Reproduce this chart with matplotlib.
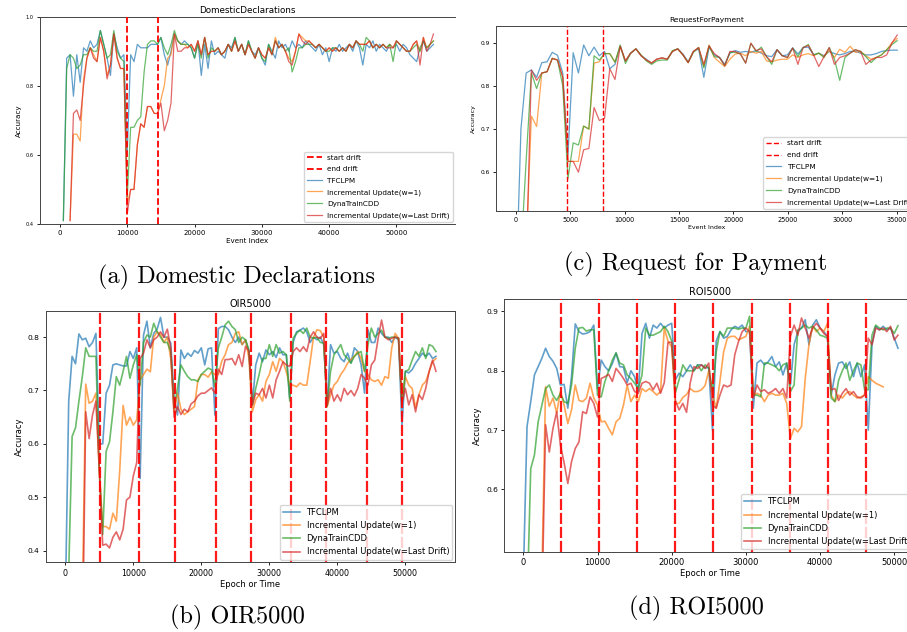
import numpy as np
import matplotlib
matplotlib.use("Agg")
import matplotlib.pyplot as plt

nan = np.nan

# ---------------- (a) Domestic Declarations ----------------
a_x = np.arange(500, 55501, 500)
a_tfclpm = [
 0.41, 0.88, 0.89, 0.77, 0.89, 0.81, 0.91, 0.90, 0.93, 0.91,
 0.92, 0.96, 0.92, 0.88, 0.83, 0.95, 0.91, 0.88, 0.89, 0.61,
 0.89, 0.87, 0.92, 0.91, 0.91, 0.91, 0.92, 0.92, 0.92, 0.94,
 0.89, 0.86, 0.90, 0.95, 0.93, 0.92, 0.93, 0.92, 0.91, 0.88,
 0.93, 0.83, 0.92, 0.85, 0.93, 0.89, 0.90, 0.89, 0.88, 0.92,
 0.91, 0.94, 0.90, 0.92, 0.89, 0.93, 0.90, 0.89, 0.91, 0.88,
 0.86, 0.92, 0.90, 0.88, 0.93, 0.91, 0.92, 0.90, 0.93, 0.91,
 0.92, 0.91, 0.93, 0.92, 0.91, 0.90, 0.92, 0.89, 0.91, 0.87,
 0.91, 0.90, 0.92, 0.90, 0.91, 0.92, 0.90, 0.93, 0.91, 0.86,
 0.92, 0.91, 0.93, 0.90, 0.92, 0.91, 0.90, 0.92, 0.91, 0.92,
 0.90, 0.92, 0.91, 0.89, 0.88, 0.87, 0.91, 0.93, 0.90, 0.91,
 0.92]
a_incr1 = [
 nan, nan, 0.41, 0.66, 0.66, 0.64, 0.82, 0.88, 0.91, 0.89,
 0.87, 0.94, 0.90, 0.83, 0.86, 0.95, 0.88, 0.85, 0.85, 0.46,
 0.50, 0.50, 0.63, 0.69, 0.68, 0.74, 0.74, 0.72, 0.72, 0.76,
 0.80, 0.88, 0.89, 0.95, 0.93, 0.92, 0.92, 0.91, 0.92, 0.90,
 0.93, 0.89, 0.94, 0.89, 0.90, 0.90, 0.91, 0.89, 0.90, 0.92,
 0.90, 0.93, 0.90, 0.92, 0.89, 0.92, 0.90, 0.88, 0.91, 0.89,
 0.88, 0.91, 0.89, 0.94, 0.91, 0.92, 0.90, 0.88, 0.87, 0.90,
 0.95, 0.94, 0.93, 0.93, 0.92, 0.91, 0.92, 0.91, 0.90, 0.91,
 0.90, 0.91, 0.90, 0.91, 0.90, 0.92, 0.91, 0.93, 0.92, 0.92,
 0.92, 0.93, 0.91, 0.92, 0.91, 0.92, 0.91, 0.92, 0.91, 0.93,
 0.92, 0.91, 0.90, 0.90, 0.92, 0.93, 0.90, 0.94, 0.91, 0.92,
 0.93]
a_dyna = [
 0.41, 0.85, 0.89, 0.88, 0.85, 0.86, 0.89, 0.89, 0.91, 0.90,
 0.90, 0.96, 0.92, 0.88, 0.89, 0.96, 0.90, 0.88, 0.87, 0.48,
 0.68, 0.68, 0.70, 0.71, 0.84, 0.92, 0.93, 0.93, 0.92, 0.94,
 0.91, 0.89, 0.92, 0.96, 0.93, 0.92, 0.92, 0.92, 0.91, 0.88,
 0.92, 0.88, 0.94, 0.88, 0.91, 0.90, 0.91, 0.89, 0.90, 0.92,
 0.90, 0.94, 0.90, 0.92, 0.89, 0.93, 0.90, 0.88, 0.91, 0.88,
 0.87, 0.92, 0.89, 0.93, 0.91, 0.92, 0.90, 0.91, 0.84, 0.87,
 0.91, 0.91, 0.92, 0.92, 0.92, 0.91, 0.92, 0.91, 0.90, 0.90,
 0.91, 0.91, 0.90, 0.91, 0.90, 0.92, 0.91, 0.93, 0.92, 0.90,
 0.94, 0.93, 0.91, 0.92, 0.91, 0.92, 0.91, 0.92, 0.87, 0.93,
 0.92, 0.91, 0.90, 0.90, 0.91, 0.92, 0.90, 0.93, 0.91, 0.92,
 0.93]
a_incrLD = [
 nan, nan, 0.41, 0.72, 0.73, 0.70, 0.80, 0.88, 0.91, 0.88,
 0.87, 0.94, 0.90, 0.82, 0.86, 0.95, 0.88, 0.85, 0.85, 0.43,
 0.50, 0.50, 0.63, 0.69, 0.68, 0.74, 0.74, 0.72, 0.72, 0.75,
 0.67, 0.70, 0.75, 0.95, 0.90, 0.90, 0.91, 0.91, 0.92, 0.90,
 0.93, 0.89, 0.94, 0.89, 0.90, 0.90, 0.91, 0.89, 0.90, 0.92,
 0.90, 0.93, 0.90, 0.92, 0.89, 0.92, 0.90, 0.88, 0.91, 0.89,
 0.88, 0.91, 0.89, 0.93, 0.91, 0.92, 0.90, 0.87, 0.86, 0.90,
 0.95, 0.93, 0.92, 0.93, 0.92, 0.91, 0.92, 0.91, 0.90, 0.91,
 0.90, 0.91, 0.90, 0.91, 0.90, 0.92, 0.91, 0.93, 0.92, 0.92,
 0.92, 0.93, 0.91, 0.92, 0.91, 0.92, 0.91, 0.91, 0.91, 0.93,
 0.92, 0.91, 0.90, 0.90, 0.92, 0.93, 0.86, 0.94, 0.90, 0.92,
 0.95]
a_drifts = [9900, 14600]

# ---------------- (c) Request for Payment ----------------
c_x = np.arange(0, 35041, 480)
c_tfclpm = [
 0.30, 0.70, 0.83, 0.837, 0.82, 0.854, 0.856, 0.878, 0.871, 0.83,
 0.64, 0.877, 0.83, 0.895, 0.87, 0.89, 0.87, 0.88, 0.84, 0.85,
 0.892, 0.858, 0.876, 0.886, 0.870, 0.862, 0.853, 0.862, 0.865, 0.862,
 0.880, 0.886, 0.874, 0.856, 0.880, 0.886, 0.820, 0.890, 0.872, 0.866,
 0.850, 0.876, 0.882, 0.878, 0.880, 0.878, 0.882, 0.876, 0.870, 0.868,
 0.884, 0.870, 0.872, 0.888, 0.874, 0.889, 0.890, 0.872, 0.876, 0.870,
 0.880, 0.875, 0.872, 0.875, 0.880, 0.880, 0.876, 0.872, 0.872, 0.875,
 0.880, 0.882, 0.883, 0.883]
c_incr1 = [
 nan, nan, 0.42, 0.73, 0.706, 0.83, 0.833, 0.864, 0.86, 0.82,
 0.625, 0.625, 0.625, 0.707, 0.70, 0.853, 0.856, 0.875, 0.875, 0.855,
 0.892, 0.858, 0.876, 0.886, 0.870, 0.860, 0.853, 0.862, 0.865, 0.862,
 0.880, 0.886, 0.872, 0.854, 0.880, 0.889, 0.845, 0.895, 0.866, 0.855,
 0.845, 0.862, 0.874, 0.876, 0.870, 0.880, 0.876, 0.880, 0.858, 0.856,
 0.860, 0.862, 0.862, 0.872, 0.866, 0.872, 0.875, 0.870, 0.876, 0.868,
 0.882, 0.866, 0.885, 0.878, 0.892, 0.878, 0.880, 0.870, 0.862, 0.866,
 0.872, 0.884, 0.900, 0.910]
c_dyna = [
 nan, 0.41, 0.627, 0.83, 0.794, 0.83, 0.833, 0.864, 0.86, 0.80,
 0.585, 0.668, 0.663, 0.707, 0.70, 0.87, 0.86, 0.875, 0.875, 0.855,
 0.895, 0.852, 0.876, 0.886, 0.872, 0.858, 0.850, 0.858, 0.860, 0.860,
 0.882, 0.886, 0.872, 0.854, 0.878, 0.889, 0.842, 0.893, 0.868, 0.866,
 0.847, 0.878, 0.878, 0.874, 0.853, 0.899, 0.880, 0.890, 0.868, 0.850,
 0.884, 0.870, 0.866, 0.888, 0.868, 0.889, 0.896, 0.872, 0.876, 0.866,
 0.889, 0.862, 0.813, 0.866, 0.876, 0.884, 0.880, 0.868, 0.854, 0.866,
 0.872, 0.884, 0.896, 0.905]
c_incrLD = [
 nan, nan, 0.375, 0.837, 0.813, 0.83, 0.833, 0.864, 0.86, 0.82,
 0.625, 0.625, 0.60, 0.652, 0.655, 0.75, 0.72, 0.725, 0.84, 0.815,
 0.892, 0.858, 0.876, 0.886, 0.870, 0.860, 0.853, 0.862, 0.865, 0.862,
 0.880, 0.886, 0.872, 0.854, 0.880, 0.889, 0.850, 0.893, 0.875, 0.866,
 0.847, 0.880, 0.880, 0.874, 0.853, 0.899, 0.882, 0.886, 0.868, 0.856,
 0.884, 0.870, 0.866, 0.888, 0.850, 0.889, 0.894, 0.872, 0.845, 0.868,
 0.889, 0.850, 0.866, 0.870, 0.876, 0.884, 0.880, 0.850, 0.860, 0.866,
 0.866, 0.872, 0.900, 0.918]
c_drifts = [4750, 8050]

# ---------------- (b) OIR5000 ----------------
b_x = np.arange(0, 54501, 500)
b_tfclpm = [
 0.30, 0.68, 0.764, 0.75, 0.806, 0.795, 0.798, 0.782, 0.79, 0.807,
 0.60, 0.60, 0.695, 0.71, 0.748, 0.75, 0.748, 0.746, 0.746, 0.773,
 0.76, 0.78, 0.535, 0.804, 0.83, 0.78, 0.807, 0.815, 0.837, 0.80,
 0.80, 0.789, 0.686, 0.654, 0.776, 0.76, 0.77, 0.764, 0.775, 0.77,
 0.78, 0.748, 0.778, 0.78, 0.654, 0.816, 0.82, 0.82, 0.814, 0.80,
 0.79, 0.80, 0.786, 0.795, 0.773, 0.673, 0.748, 0.77, 0.754, 0.776,
 0.767, 0.773, 0.762, 0.78, 0.767, 0.767, 0.686, 0.79, 0.81, 0.813,
 0.817, 0.81, 0.79, 0.80, 0.795, 0.80, 0.786, 0.673, 0.786, 0.77,
 0.773, 0.76, 0.754, 0.77, 0.752, 0.78, 0.773, 0.748, 0.695, 0.814,
 0.79, 0.79, 0.817, 0.807, 0.80, 0.80, 0.79, 0.80, 0.795, 0.636,
 0.736, 0.733, 0.739, 0.751, 0.76, 0.77, 0.764, 0.77, 0.76, 0.764]
b_incr1 = [
 nan, nan, nan, nan, nan, 0.30, 0.712, 0.676, 0.68, 0.695,
 0.55, 0.445, 0.445, 0.44, 0.47, 0.455, 0.55, 0.672, 0.635, 0.65,
 0.635, 0.645, 0.72, 0.73, 0.74, 0.735, 0.80, 0.81, 0.805, 0.79,
 0.80, 0.76, 0.66, 0.695, 0.665, 0.655, 0.66, 0.665, 0.67, 0.72,
 0.73, 0.73, 0.725, 0.735, 0.73, 0.73, 0.755, 0.767, 0.786, 0.79,
 0.807, 0.81, 0.786, 0.795, 0.76, 0.66, 0.683, 0.692, 0.68, 0.717,
 0.73, 0.754, 0.736, 0.76, 0.754, 0.735, 0.71, 0.71, 0.707, 0.714,
 0.71, 0.71, 0.754, 0.80, 0.814, 0.812, 0.80, 0.67, 0.692, 0.71,
 0.717, 0.73, 0.739, 0.751, 0.758, 0.764, 0.773, 0.76, 0.736, 0.73,
 0.72, 0.717, 0.72, 0.71, 0.726, 0.723, 0.78, 0.807, 0.798, 0.68,
 0.726, 0.71, 0.704, 0.667, 0.692, 0.71, 0.717, 0.735, 0.754, 0.76]
b_dyna = [
 nan, 0.36, 0.614, 0.63, 0.68, 0.726, 0.78, 0.764, 0.764, 0.764,
 0.55, 0.43, 0.586, 0.604, 0.66, 0.726, 0.71, 0.736, 0.764, 0.723,
 0.748, 0.767, 0.71, 0.79, 0.804, 0.80, 0.826, 0.81, 0.80, 0.79,
 0.79, 0.773, 0.667, 0.705, 0.748, 0.736, 0.726, 0.72, 0.72, 0.717,
 0.73, 0.736, 0.742, 0.739, 0.707, 0.78, 0.80, 0.823, 0.83, 0.82,
 0.814, 0.79, 0.80, 0.795, 0.776, 0.673, 0.704, 0.73, 0.76, 0.76,
 0.786, 0.764, 0.786, 0.77, 0.773, 0.767, 0.68, 0.798, 0.807, 0.813,
 0.807, 0.817, 0.80, 0.798, 0.80, 0.79, 0.789, 0.67, 0.736, 0.767,
 0.776, 0.786, 0.767, 0.76, 0.751, 0.764, 0.77, 0.773, 0.736, 0.786,
 0.817, 0.80, 0.807, 0.813, 0.80, 0.798, 0.80, 0.80, 0.798, 0.673,
 0.736, 0.739, 0.757, 0.773, 0.764, 0.78, 0.76, 0.786, 0.783, 0.773]
b_incrLD = [
 nan, nan, nan, nan, nan, 0.20, 0.66, 0.61, 0.654, 0.68,
 0.55, 0.41, 0.412, 0.405, 0.425, 0.435, 0.42, 0.44, 0.495, 0.50,
 0.54, 0.565, 0.76, 0.77, 0.795, 0.78, 0.795, 0.80, 0.81, 0.80,
 0.815, 0.78, 0.65, 0.67, 0.655, 0.665, 0.66, 0.675, 0.68, 0.69,
 0.695, 0.695, 0.70, 0.705, 0.695, 0.74, 0.73, 0.758, 0.758, 0.76,
 0.748, 0.767, 0.745, 0.783, 0.773, 0.673, 0.695, 0.692, 0.704, 0.686,
 0.71, 0.686, 0.72, 0.736, 0.754, 0.748, 0.745, 0.773, 0.78, 0.773,
 0.782, 0.773, 0.80, 0.81, 0.80, 0.798, 0.807, 0.673, 0.704, 0.68,
 0.692, 0.68, 0.704, 0.692, 0.70, 0.69, 0.704, 0.73, 0.723, 0.71,
 0.748, 0.757, 0.798, 0.832, 0.80, 0.795, 0.798, 0.80, 0.798, 0.676,
 0.704, 0.673, 0.692, 0.66, 0.692, 0.683, 0.704, 0.736, 0.757, 0.736]
b_drifts = [5100, 10880, 16130, 22110, 27260, 33140, 38290, 44320, 49560]

# ---------------- (d) ROI5000 ----------------
d_x = np.arange(0, 50501, 500)
d_tfclpm = [
 0.45, 0.706, 0.748, 0.793, 0.807, 0.821, 0.838, 0.824, 0.816, 0.804,
 0.776, 0.777, 0.737, 0.79, 0.879, 0.866, 0.862, 0.863, 0.866, 0.877,
 0.77, 0.818, 0.807, 0.80, 0.812, 0.83, 0.807, 0.806, 0.78, 0.80,
 0.79, 0.765, 0.863, 0.88, 0.855, 0.877, 0.872, 0.88, 0.872, 0.877,
 0.88, 0.785, 0.796, 0.79, 0.80, 0.81, 0.80, 0.81, 0.81, 0.805,
 0.805, 0.70, 0.85, 0.866, 0.855, 0.858, 0.869, 0.875, 0.872, 0.877,
 0.866, 0.866, 0.737, 0.813, 0.818, 0.81, 0.815, 0.824, 0.807, 0.815,
 0.793, 0.813, 0.776, 0.844, 0.866, 0.872, 0.886, 0.844, 0.877, 0.886,
 0.872, 0.866, 0.858, 0.759, 0.793, 0.813, 0.815, 0.804, 0.815, 0.79,
 0.813, 0.79, 0.81, 0.70, 0.844, 0.875, 0.869, 0.875, 0.869, 0.872,
 0.855, 0.838]
d_incr1 = [
 nan, nan, nan, nan, nan, 0.45, 0.773, 0.74, 0.754, 0.729,
 0.765, 0.742, 0.711, 0.734, 0.776, 0.75, 0.748, 0.754, 0.779, 0.754,
 0.742, 0.714, 0.715, 0.703, 0.692, 0.714, 0.72, 0.742, 0.776, 0.748,
 0.759, 0.748, 0.77, 0.765, 0.77, 0.765, 0.759, 0.765, 0.872, 0.85,
 0.84, 0.745, 0.745, 0.755, 0.76, 0.77, 0.765, 0.765, 0.768, 0.775,
 0.80, 0.76, 0.737, 0.782, 0.832, 0.855, 0.858, 0.858, 0.852, 0.855,
 0.858, 0.875, 0.759, 0.762, 0.759, 0.748, 0.759, 0.762, 0.759, 0.759,
 0.762, 0.745, 0.686, 0.703, 0.697, 0.706, 0.787, 0.844, 0.875, 0.866,
 0.872, 0.866, 0.88, 0.759, 0.748, 0.759, 0.754, 0.762, 0.765, 0.759,
 0.754, 0.756, 0.759, 0.79, 0.784, 0.779, 0.776, 0.773, nan, nan,
 nan, nan]
d_dyna = [
 nan, 0.40, 0.635, 0.658, 0.714, 0.742, 0.77, 0.776, 0.759, 0.75,
 0.762, 0.748, 0.745, 0.776, 0.838, 0.872, 0.873, 0.867, 0.869, 0.869,
 0.759, 0.756, 0.782, 0.80, 0.818, 0.83, 0.813, 0.81, 0.793, 0.787,
 0.779, 0.77, 0.793, 0.872, 0.86, 0.86, 0.863, 0.866, 0.875, 0.866,
 0.85, 0.763, 0.785, 0.81, 0.80, 0.80, 0.80, 0.81, 0.80, 0.81,
 0.805, 0.765, 0.832, 0.866, 0.858, 0.872, 0.872, 0.872, 0.87, 0.872,
 0.872, 0.892, 0.759, 0.759, 0.756, 0.813, 0.813, 0.81, 0.807, 0.80,
 0.81, 0.813, 0.765, 0.776, 0.869, 0.872, 0.877, 0.872, 0.875, 0.869,
 0.86, 0.858, 0.855, 0.754, 0.748, 0.784, 0.80, 0.813, 0.784, 0.80,
 0.813, 0.81, 0.768, 0.768, 0.86, 0.877, 0.872, 0.869, 0.872, 0.872,
 0.863, 0.876]
d_incrLD = [
 nan, nan, nan, nan, nan, 0.40, 0.709, 0.663, 0.703, 0.731,
 0.675, 0.645, 0.61, 0.647, 0.669, 0.68, 0.731, 0.728, 0.756, 0.745,
 0.722, 0.787, 0.79, 0.794, 0.782, 0.804, 0.796, 0.787, 0.776, 0.779,
 0.765, 0.762, 0.779, 0.782, 0.779, 0.768, 0.779, 0.762, 0.78, 0.848,
 0.848, 0.75, 0.734, 0.745, 0.73, 0.78, 0.807, 0.804, 0.81, 0.804,
 0.813, 0.742, 0.737, 0.759, 0.776, 0.773, 0.776, 0.827, 0.849, 0.866,
 0.872, 0.866, 0.754, 0.776, 0.765, 0.768, 0.762, 0.765, 0.77, 0.762,
 0.77, 0.754, 0.858, 0.877, 0.86, 0.889, 0.872, 0.855, 0.872, 0.88,
 0.872, 0.863, 0.858, 0.768, 0.77, 0.75, 0.762, 0.77, 0.759, 0.765,
 0.756, 0.754, 0.759, 0.855, 0.844, 0.872, 0.869, 0.872, 0.866, 0.875,
 0.852, 0.86]
d_drifts = [5085, 10170, 15300, 20460, 25630, 30810, 35980, 41060, 46230]

labels = ["TFCLPM", "Incremental Update(w=1)", "DynaTrainCDD",
          "Incremental Update(w=Last Drift)"]
colors = ["tab:blue", "tab:orange", "tab:green", "tab:red"]

W, H = 907, 632
fig = plt.figure(figsize=(W / 100, H / 100), dpi=100)
fig.patch.set_facecolor("white")


def add_ax(left, top, right, bottom):
    return fig.add_axes([left / W, 1 - bottom / H, (right - left) / W, (bottom - top) / H])


def panel(ax, x, series, drifts, drift_labels, xlim, ylim, xticks, yticks,
          title, xlabel, fs_title, fs_xt, fs_yt, fs_lab, fs_leg, lw, dlw,
          hide_right=False, labelspacing=0.5):
    if drift_labels:
        for d, lab in zip(drifts, drift_labels):
            ax.axvline(d, color="red", ls="--", lw=dlw, label=lab, zorder=3)
    else:
        for d in drifts:
            ax.axvline(d, color="red", ls=(0, (5, 1.3)), lw=dlw, alpha=0.9, zorder=3)
    for s, lab, c in zip(series, labels, colors):
        ax.plot(x, s, color=c, lw=lw, alpha=0.7, label=lab)
    ax.set_xlim(*xlim)
    ax.set_ylim(*ylim)
    ax.set_xticks(xticks)
    ax.set_yticks(yticks)
    ax.tick_params(axis="x", labelsize=fs_xt, length=2.5, width=0.6, pad=2)
    ax.tick_params(axis="y", labelsize=fs_yt, length=2.5, width=0.6, pad=2)
    ax.set_title(title, fontsize=fs_title, pad=3)
    ax.set_xlabel(xlabel, fontsize=fs_lab, labelpad=1.5)
    ax.set_ylabel("Accuracy", fontsize=fs_lab, labelpad=3)
    for sp in ax.spines.values():
        sp.set_linewidth(0.7)
        sp.set_color("#444444")
    if hide_right:
        ax.spines["right"].set_visible(False)
    leg = ax.legend(loc="lower right", fontsize=fs_leg, framealpha=0.8,
                    borderaxespad=0.3, handlelength=2.0,
                    labelspacing=labelspacing)
    return leg


# (a)
ax_a = add_ax(40, 16.7, 455, 224)
panel(ax_a, a_x, [a_tfclpm, a_incr1, a_dyna, a_incrLD], a_drifts,
      ["start drift", "end drift"], (-2970, 58700), (0.4, 1.0),
      np.arange(0, 50001, 10000), [0.4, 0.6, 0.8, 1.0],
      "DomesticDeclarations", "Event Index", 6.3, 5.0, 3.6, 5.1, 5.2, 0.9, 1.3,
      hide_right=True, labelspacing=0.75)

# (c)
ax_c = add_ax(496, 26, 917, 211)
panel(ax_c, c_x, [c_tfclpm, c_incr1, c_dyna, c_incrLD], c_drifts,
      ["start drift", "end drift"], (-1810, 36860), (0.51, 0.939),
      np.arange(0, 35001, 5000), [0.6, 0.7, 0.8, 0.9],
      "RequestForPayment", "Event Index", 5.4, 4.7, 4.2, 4.5, 5.3, 0.9, 1.0,
      hide_right=True, labelspacing=0.75)

# (b)
ax_b = add_ax(46, 311, 455, 562.3)
panel(ax_b, b_x, [b_tfclpm, b_incr1, b_dyna, b_incrLD], b_drifts, None,
      (-2840, 57300), (0.378, 0.849),
      np.arange(0, 50001, 10000), [0.4, 0.5, 0.6, 0.7, 0.8],
      "OIR5000", "Epoch or Time", 7.0, 5.7, 5.4, 6.0, 6.0, 1.2, 1.6)

# (d)
ax_d = add_ax(504.3, 299, 916, 551.7)
panel(ax_d, d_x, [d_tfclpm, d_incr1, d_dyna, d_incrLD], d_drifts, None,
      (-2563, 52930), (0.495, 0.921),
      np.arange(0, 50001, 10000), [0.6, 0.7, 0.8, 0.9],
      "ROI5000", "Epoch or Time", 7.0, 6.0, 5.4, 6.0, 6.0, 1.2, 1.6,
      hide_right=True)

cap_kw = dict(ha="center", va="center", family="cmr10", fontsize=17.5)
fig.text(237 / W, 1 - 277 / H, "(a) Domestic Declarations", **cap_kw)
fig.text(696 / W, 1 - 264 / H, "(c) Request for Payment", **cap_kw)
fig.text(237 / W, 1 - 617 / H, "(b) OIR5000", **cap_kw)
fig.text(696 / W, 1 - 608 / H, "(d) ROI5000", **cap_kw)

fig.savefig("out.png", dpi=100, facecolor="white")
